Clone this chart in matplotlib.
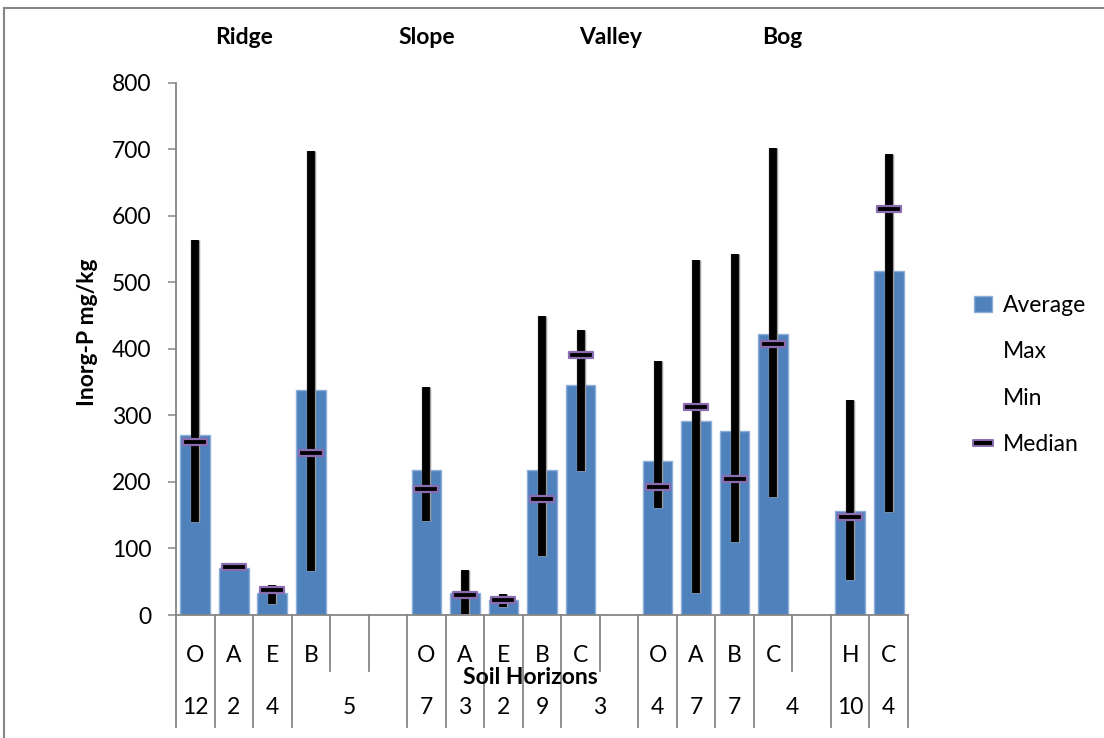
import numpy as np
import matplotlib
matplotlib.use("Agg")
import matplotlib.pyplot as plt
import matplotlib.transforms as mtransforms
import matplotlib.patheffects as pe
from matplotlib.lines import Line2D
from matplotlib.patches import Patch
from matplotlib.path import Path

plt.rcParams['font.family'] = ['Lato', 'DejaVu Sans']

# ---- data -------------------------------------------------------------
horizons = ['O', 'A', 'E', 'B', '', '',
            'O', 'A', 'E', 'B', 'C', '',
            'O', 'A', 'B', 'C', '',
            'H', 'C']
sample_counts = ['12', '2', '4', '5', '7', '3', '2', '9', '3', '4', '7', '7', '4', '10', '4']
count_spans = [1, 1, 1, 3, 1, 1, 1, 1, 2, 1, 1, 1, 2, 1, 1]
sites = ['Ridge', 'Slope', 'Valley', 'Bog']
site_x = [244, 427, 611, 782]  # label centres, figure pixels

nan = np.nan
average = [270, 71, 33, 338, nan, nan, 218, 33, 22, 218, 345, nan, 231, 291, 276, 423, nan, 157, 517]
maximum = [563, 74, 45, 698, nan, nan, 342, 68, 32, 449, 428, nan, 382, 533, 542, 702, nan, 323, 693]
minimum = [140, 70, 17, 66, nan, nan, 141, 1, 12, 88, 217, nan, 161, 33, 109, 177, nan, 53, 155]
median = [260, 72, 37, 244, nan, nan, 189, 30, 22, 175, 391, nan, 193, 313, 204, 408, nan, 147, 610]

# ---- figure -----------------------------------------------------------
W, H = 1104, 738
fig = plt.figure(figsize=(W / 100, H / 100), dpi=100)
fig.patch.set_facecolor('white')

ax_left, ax_right, ax_top, ax_bottom = 176, 908, 82.7, 615
ax = fig.add_axes([ax_left / W, 1 - ax_bottom / H,
                   (ax_right - ax_left) / W, (ax_bottom - ax_top) / H])

axis_grey = '#868686'
bar_blue = '#4F81BD'
fs = 16.5

x = np.arange(len(horizons))
ax.bar(x, average, width=0.77, color=bar_blue, edgecolor='#8EAEDA', linewidth=1.0, zorder=2)

hl = ax.vlines(x, minimum, maximum, colors='black', linewidth=5.6, zorder=3)
hl.set_capstyle('butt')
hl.set_path_effects([pe.Stroke(linewidth=6.8, foreground='#9A9A9A'), pe.Normal()])

dash = Path([(-1, -0.26), (1, -0.26), (1, 0.26), (-1, 0.26), (-1, -0.26)],
            [Path.MOVETO, Path.LINETO, Path.LINETO, Path.LINETO, Path.CLOSEPOLY])
ax.plot(x, median, linestyle='none', marker=dash, markersize=17,
        markerfacecolor='black', markeredgecolor='#8A6DB0', markeredgewidth=1.6, zorder=4)

ax.set_xlim(-0.5, len(horizons) - 0.5)
ax.set_ylim(0, 800)
ax.set_yticks(np.arange(0, 801, 100))
ax.tick_params(axis='y', direction='out', length=5.5, width=1.1, color=axis_grey,
               labelsize=fs, pad=12)
ax.set_xticks([])
for s in ['top', 'right']:
    ax.spines[s].set_visible(False)
for s in ['left', 'bottom']:
    ax.spines[s].set_color(axis_grey)
    ax.spines[s].set_linewidth(1.3)

# ---- two-level category axis -----------------------------------------
trans = mtransforms.blended_transform_factory(ax.transData, ax.transAxes)
ax_h = ax_bottom - ax_top
row1_end = -(670.7 - ax_bottom) / ax_h
row2_end = -(727 - ax_bottom) / ax_h
row1_y = -(655 - ax_bottom) / ax_h
row2_y = -(708 - ax_bottom) / ax_h

long_edges = set(np.concatenate([[0], np.cumsum(count_spans)]).tolist())
for k in range(len(horizons) + 1):
    y_end = row2_end if k in long_edges else row1_end
    ax.add_line(Line2D([k - 0.5, k - 0.5], [0, y_end], transform=trans,
                       color=axis_grey, linewidth=1.3, clip_on=False))

for i, lab in enumerate(horizons):
    ax.text(i, row1_y, lab, transform=trans, ha='center', va='center', fontsize=fs)

start = 0
for lab, span in zip(sample_counts, count_spans):
    ax.text(start + span / 2 - 0.5, row2_y, lab, transform=trans,
            ha='center', va='center', fontsize=fs)
    start += span

fig.text(530 / W, 1 - 677 / H, 'Soil Horizons', ha='center', va='center',
         fontsize=fs, fontweight='bold')
fig.text(88 / W, 1 - 332 / H, 'Inorg-P mg/kg', ha='center', va='center',
         rotation=90, fontsize=fs, fontweight='bold')
for name, px in zip(sites, site_x):
    fig.text(px / W, 1 - 38 / H, name, ha='center', va='center',
             fontsize=fs, fontweight='bold')

# ---- legend -----------------------------------------------------------
handles = [Patch(facecolor=bar_blue, edgecolor='#8EAEDA'),
           Line2D([], [], linestyle='none'),
           Line2D([], [], linestyle='none'),
           Line2D([], [], linestyle='none', marker=dash, markersize=14,
                  markerfacecolor='black', markeredgecolor='#8A6DB0', markeredgewidth=1.4)]
fig.legend(handles, ['Average', 'Max', 'Min', 'Median'],
           loc='center left', bbox_to_anchor=(974 / W, 1 - 375 / H),
           bbox_transform=fig.transFigure, frameon=False, fontsize=fs,
           handlelength=0.8, handleheight=0.65, handletextpad=0.45,
           labelspacing=1.1, borderpad=0, borderaxespad=0)

# ---- chart frame ------------------------------------------------------
fig.add_artist(Line2D([4 / W, 1], [1 - 8 / H, 1 - 8 / H], transform=fig.transFigure,
                      color=axis_grey, linewidth=1.5))
fig.add_artist(Line2D([4 / W, 4 / W], [0, 1 - 8 / H], transform=fig.transFigure,
                      color=axis_grey, linewidth=1.5))

fig.savefig('out.png', dpi=100, facecolor='white')
